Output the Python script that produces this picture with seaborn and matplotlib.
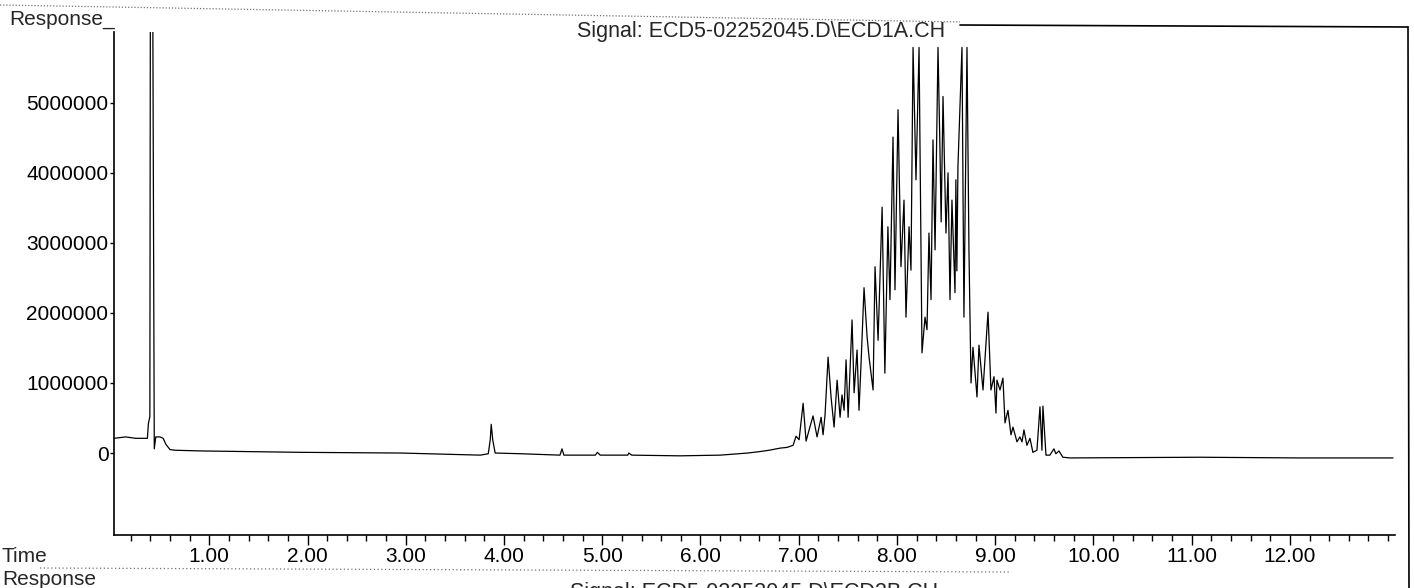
import matplotlib
matplotlib.use("Agg")
import matplotlib.pyplot as plt
from matplotlib.lines import Line2D
from matplotlib.ticker import FixedLocator, MultipleLocator, FuncFormatter
import pandas as pd
import seaborn as sns

# chromatogram trace (time in min, response in counts)
time_min = [
    0.03, 0.15, 0.25, 0.37, 0.38, 0.395, 0.40, 0.425, 0.44, 0.455, 0.50, 0.53,
    0.56, 0.60, 0.65, 0.91, 1.93, 2.95, 3.76, 3.84, 3.86, 3.87, 3.885, 3.91,
    4.17, 4.57, 4.59, 4.61, 4.93, 4.95, 4.98, 5.26, 5.27, 5.30, 5.79, 6.20,
    6.48, 6.60, 6.70, 6.81, 6.88, 6.943, 6.973, 7.004, 7.045, 7.075, 7.106,
    7.146, 7.187, 7.228, 7.248, 7.268, 7.299, 7.330, 7.360, 7.391, 7.421,
    7.441, 7.462, 7.482, 7.503, 7.543, 7.564, 7.594, 7.614, 7.635, 7.665,
    7.696, 7.716, 7.757, 7.777, 7.808, 7.849, 7.877, 7.908, 7.929, 7.960,
    7.980, 8.011, 8.041, 8.072, 8.092, 8.123, 8.143, 8.164, 8.194, 8.225,
    8.255, 8.286, 8.306, 8.326, 8.347, 8.367, 8.388, 8.418, 8.438, 8.45,
    8.469, 8.499, 8.52, 8.540, 8.560, 8.591, 8.60, 8.61, 8.621, 8.662,
    8.682, 8.713, 8.733, 8.754, 8.774, 8.815, 8.835, 8.876, 8.927, 8.957,
    8.988, 9.008, 9.018, 9.049, 9.079, 9.100, 9.130, 9.161, 9.181, 9.222,
    9.252, 9.273, 9.293, 9.323, 9.354, 9.384, 9.425, 9.456, 9.476, 9.486,
    9.517, 9.557, 9.598, 9.618, 9.649, 9.689, 9.761, 11.08, 12.10, 13.05,
]
response = [
    210000, 230000, 210000, 210000, 420000, 520000, 6300000, 6300000, 60000,
    230000, 230000, 210000, 120000, 50000, 40000, 30000, 10000, 0, -30000,
    -10000, 190000, 410000, 190000, 0, -10000, -30000, 60000, -30000, -30000,
    10000, -30000, -30000, 0, -30000, -40000, -30000,
    0, 20000, 40000, 70000, 80000, 110000, 240000, 190000, 710000, 170000,
    330000, 530000, 230000, 510000, 260000, 540000, 1370000, 790000, 370000,
    1040000, 510000, 830000, 610000, 1330000, 510000, 1900000, 860000,
    1470000, 610000, 1290000, 2360000, 1660000, 1370000, 900000, 2660000,
    1610000, 3510000, 1140000, 3230000, 2190000, 4510000, 2330000, 4900000,
    2660000, 3610000, 1940000, 3230000, 2610000, 5790000, 3900000, 5790000,
    1430000, 1940000, 1760000, 3140000, 2190000, 4470000, 2900000, 5790000,
    4330000, 3300000, 5090000, 3140000, 4000000, 2190000, 3610000, 2290000,
    3900000, 2600000, 4090000, 5790000, 1940000, 5790000, 2900000, 1000000,
    1510000, 800000, 1540000, 900000, 2010000, 900000, 1090000, 570000,
    1040000, 900000, 1070000, 430000, 610000, 260000, 370000, 160000, 230000,
    160000, 330000, 110000, 210000, 10000, 40000, 660000, 40000, 670000,
    -30000, -30000, 60000, -10000, 30000, -60000, -70000, -60000, -70000,
    -70000,
]

x_major = [1, 2, 3, 4, 5, 6, 7, 8, 9, 10, 11, 12]
y_major = [0, 1000000, 2000000, 3000000, 4000000, 5000000]
signal_top = "Signal: ECD5-02252045.D\\ECD1A.CH"
signal_next = "Signal: ECD5-02252045.D\\ECD2B.CH"

W, H = 1414, 588


def fx(x):
    return x / W


def fy(y):
    return 1 - y / H


sns.set_theme(style="ticks")
plt.rcParams["font.family"] = ["Liberation Sans", "DejaVu Sans"]

fig = plt.figure(figsize=(W / 100, H / 100), dpi=100)
fig.patch.set_facecolor("white")
ax = fig.add_axes([fx(114), fy(535), fx(1395) - fx(114), fy(32) - fy(535)])
ax.set_facecolor("white")

df = pd.DataFrame({"time": time_min, "response": response})
sns.lineplot(data=df, x="time", y="response", estimator=None, sort=False,
             color="black", linewidth=0.9, ax=ax)

ax.set_xlim(0.03, 13.07)
ax.set_ylim(-1170000, 6010000)
ax.set_xlabel("")
ax.set_ylabel("")

ax.xaxis.set_major_locator(FixedLocator(x_major))
ax.xaxis.set_minor_locator(MultipleLocator(0.2))
ax.xaxis.set_major_formatter(FuncFormatter(lambda v, p: f"{v:.2f}"))
ax.yaxis.set_major_locator(FixedLocator(y_major))
ax.yaxis.set_major_formatter(FuncFormatter(lambda v, p: f"{int(v)}"))

ax.tick_params(axis="x", which="major", length=7, width=1, pad=1.5,
               labelsize=15, colors="black")
ax.tick_params(axis="x", which="minor", length=4, width=1, colors="black")
ax.tick_params(axis="y", which="major", length=3, width=1, pad=1,
               labelsize=15, colors="black")

sns.despine(ax=ax)
for side in ["left", "bottom"]:
    ax.spines[side].set_color("black")
    ax.spines[side].set_linewidth(1.2)

# labels around the plot, as printed on the report page
fig.text(fx(9), fy(25), "Response_", fontsize=15, va="baseline")
fig.text(fx(577), fy(37), signal_top, fontsize=15.5, va="baseline")
fig.text(fx(2), fy(562), "Time", fontsize=15, va="baseline")
fig.text(fx(2), fy(585), "Response", fontsize=15, va="baseline")
fig.text(fx(570), fy(598), signal_next, fontsize=15.5, va="baseline")

# page frame lines
fig.add_artist(Line2D([fx(0), fx(960)], [fy(5), fy(22)], color="0.45",
                      lw=0.9, ls=(0, (1, 1.5))))
fig.add_artist(Line2D([fx(960), fx(1408)], [fy(25), fy(27)], color="black",
                      lw=1.2))
fig.add_artist(Line2D([fx(1408), fx(1409)], [fy(27), fy(588)], color="black",
                      lw=1.2))
fig.add_artist(Line2D([fx(40), fx(1010)], [fy(568), fy(572)], color="0.45",
                      lw=0.9, ls=(0, (1, 2))))

fig.savefig("out.png", dpi=100)
